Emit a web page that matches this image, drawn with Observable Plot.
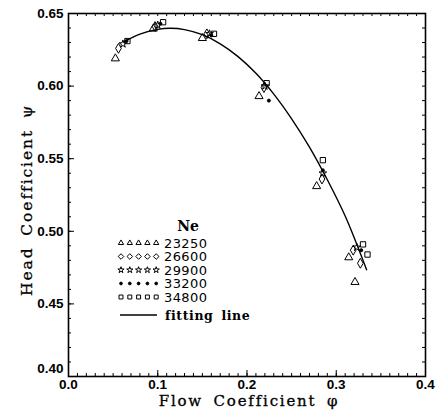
<!DOCTYPE html>
<html><head><meta charset="utf-8">
<script src="https://cdn.jsdelivr.net/npm/d3@7"></script>
<script src="https://cdn.jsdelivr.net/npm/@observablehq/plot@0.6"></script>
<style>
body{margin:0;background:#fff;}
#wrap{position:relative;width:437px;height:411px;}
#wrap svg{position:absolute;left:0;top:0;}
</style></head><body><div id="wrap"></div>
<script>
// ---- data ----
const neLabels = ["23250", "26600", "29900", "33200", "34800"];
const symbolNames = ["triangle", "diamond", "star", "circle", "square"];

const phi23250 = [0.0525, 0.095, 0.150, 0.2135, 0.278, 0.314, 0.321];
const psi23250 = [0.619, 0.6395, 0.633, 0.593, 0.531, 0.482, 0.465];
const phi26600 = [0.056, 0.097, 0.155, 0.219, 0.284, 0.319, 0.327];
const psi26600 = [0.626, 0.641, 0.636, 0.599, 0.536, 0.487, 0.478];
const phi29900 = [0.061, 0.100, 0.158, 0.220, 0.285, 0.323];
const psi29900 = [0.629, 0.642, 0.636, 0.600, 0.540, 0.489];
const phi33200 = [0.065, 0.103, 0.160, 0.2245, 0.285, 0.328];
const psi33200 = [0.631, 0.643, 0.635, 0.590, 0.542, 0.487];
const phi34800 = [0.066, 0.106, 0.163, 0.222, 0.285, 0.330, 0.335];
const psi34800 = [0.631, 0.644, 0.636, 0.602, 0.549, 0.491, 0.484];

const fitPhi = [0.062, 0.08, 0.10, 0.114, 0.13, 0.15, 0.17, 0.19, 0.21, 0.23, 0.25, 0.27, 0.29, 0.31, 0.334];
const fitPsi = [0.6305, 0.6358, 0.6391, 0.6398, 0.6389, 0.6354, 0.6291, 0.6203, 0.6088, 0.5945, 0.5775, 0.5580, 0.5355, 0.5105, 0.4735];

const xTickLabels = [0.0, 0.1, 0.2, 0.3, 0.4];
const yTickLabels = [0.40, 0.45, 0.50, 0.55, 0.60, 0.65];

// ---- tables ----
const seriesPhi = [phi23250, phi26600, phi29900, phi33200, phi34800];
const seriesPsi = [psi23250, psi26600, psi29900, psi33200, psi34800];
const points = seriesPhi.flatMap((arr, s) => arr.map((p, i) => ({phi: p, psi: seriesPsi[s][i], s})));
const fit = fitPhi.map((p, i) => ({phi: p, psi: fitPsi[i]}));

const W = 437, H = 411, mL = 68, mR = 12, mT = 13, mB = 35;
const innerW = W - mL - mR, innerH = H - mT - mB;
const xMinor = d3.range(0, 41).map(i => i / 100);
const yMinor = d3.range(40, 66).map(i => i / 100);

const rBySym = {triangle: 3, diamond: 3, star: 2.4, circle: 1.5, square: 3};
const dotMarks = symbolNames.map((sym, s) => Plot.dot(points.filter(d => d.s === s), {
  x: "phi", y: "psi", symbol: () => sym,
  r: rBySym[sym],
  stroke: "black", strokeWidth: 1,
  fill: sym === "circle" ? "black" : "none"
}));

const plot = Plot.plot({
  width: W, height: H,
  marginLeft: mL, marginRight: mR, marginTop: mT, marginBottom: mB,
  x: {domain: [0, 0.4]},
  y: {domain: [0.40, 0.65]},
  symbol: {type: "identity"},
  style: {fontFamily: "Liberation Sans", fontSize: "13.5px", fontWeight: "bold", background: "white", color: "black"},
  marks: [
    Plot.tickX(xMinor, {x: d => d, insetTop: innerH - 3, stroke: "black"}),
    Plot.tickX(xTickLabels, {x: d => d, insetTop: innerH - 6, stroke: "black"}),
    Plot.tickX(xMinor, {x: d => d, insetBottom: innerH - 3, stroke: "black"}),
    Plot.tickY(yMinor, {y: d => d, insetRight: innerW - 3, stroke: "black"}),
    Plot.tickY(yTickLabels, {y: d => d, insetRight: innerW - 6, stroke: "black"}),
    Plot.tickY(yMinor, {y: d => d, insetLeft: innerW - 3, stroke: "black"}),
    Plot.axisX(xTickLabels, {tickSize: 0, tickPadding: 3, tickFormat: d3.format(".1f"), label: null}),
    Plot.axisY(yTickLabels.slice(1), {tickSize: 0, tickPadding: 5, tickFormat: d3.format(".2f"), label: null}),
    Plot.axisY(yTickLabels.slice(0, 1), {tickSize: 0, tickPadding: 5, dy: -8, tickFormat: d3.format(".2f"), label: null}),
    Plot.frame({stroke: "black", strokeWidth: 1.6}),
    Plot.line(fit, {x: "phi", y: "psi", curve: "catmull-rom", stroke: "black", strokeWidth: 1.4}),
    ...dotMarks
  ]
});
const wrap = document.getElementById("wrap");
wrap.appendChild(plot);

// ---- overlay: titles and legend ----
const ov = d3.select(wrap).append("svg").attr("width", W).attr("height", H)
  .attr("viewBox", `0 0 ${W} ${H}`).style("pointer-events", "none");

ov.append("text").attr("x", 249).attr("y", 406).attr("text-anchor", "middle")
  .attr("font-family", "DejaVu Serif").attr("font-size", 15).attr("letter-spacing", 1.8).attr("word-spacing", 4)
  .attr("stroke", "black").attr("stroke-width", 0.3)
  .text("Flow Coefficient φ");
ov.append("text").attr("transform", "translate(32,200) rotate(-90)").attr("text-anchor", "middle")
  .attr("font-family", "DejaVu Serif").attr("font-size", 15.5).attr("letter-spacing", 1.9).attr("word-spacing", 4)
  .attr("stroke", "black").attr("stroke-width", 0.3)
  .text("Head Coefficient ψ");

const lg = ov.append("g");
lg.append("text").attr("x", 188).attr("y", 231).attr("text-anchor", "middle")
  .attr("font-family", "DejaVu Serif").attr("font-weight", "bold").attr("font-size", 14).text("Ne");
const d3sym = {triangle: d3.symbolTriangle2, diamond: d3.symbolDiamond2, star: d3.symbolStar, circle: d3.symbolCircle, square: d3.symbolSquare2};
const legSize = {triangle: 20, diamond: 20, star: 12, circle: 6, square: 20};
neLabels.forEach((lab, i) => {
  const yy = 243 + i * 13.5;
  for (let k = 0; k < 5; k++) {
    const sym = symbolNames[i];
    lg.append("path").attr("transform", `translate(${121 + k * 8.8},${yy})`)
      .attr("d", d3.symbol(d3sym[sym], legSize[sym])())
      .attr("fill", sym === "circle" ? "black" : "none").attr("stroke", "black").attr("stroke-width", 1);
  }
  lg.append("text").attr("x", 164).attr("y", yy + 4.8)
    .attr("font-family", "DejaVu Sans").attr("font-size", 13).attr("letter-spacing", 0.4).text(lab);
});
lg.append("line").attr("x1", 120).attr("x2", 157).attr("y1", 315).attr("y2", 315).attr("stroke", "black").attr("stroke-width", 1.3);
lg.append("text").attr("x", 165).attr("y", 319.5)
  .attr("font-family", "DejaVu Serif").attr("font-weight", "bold").attr("font-size", 12.5).attr("letter-spacing", 0.6).attr("word-spacing", 3)
  .text("fitting line");
</script></body></html>
